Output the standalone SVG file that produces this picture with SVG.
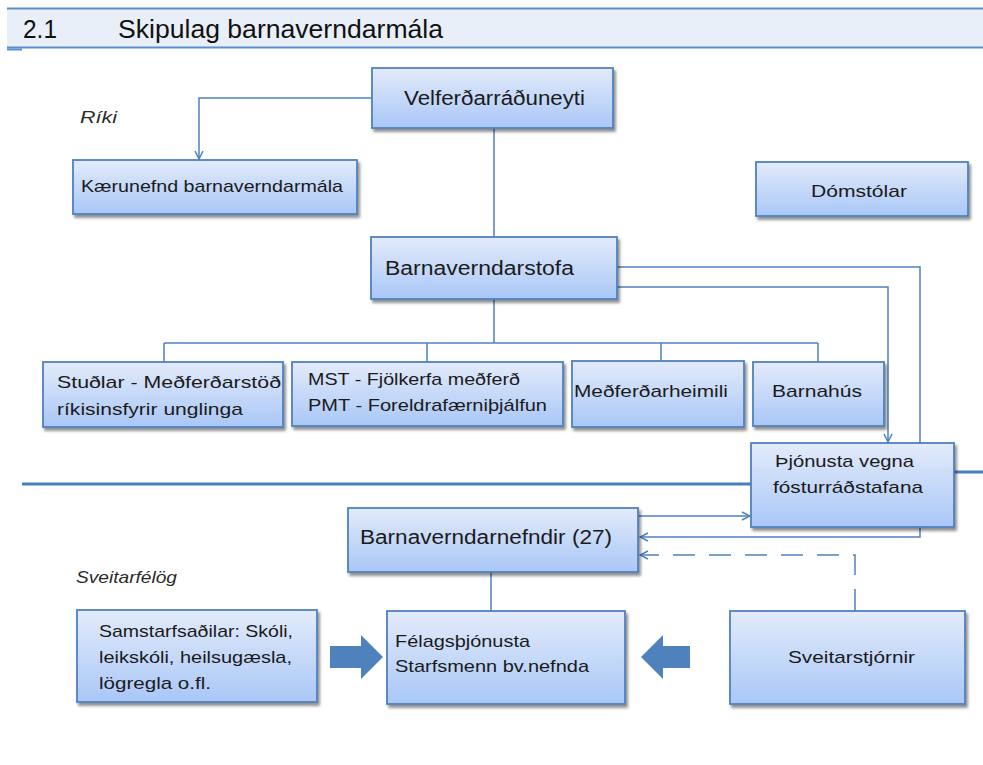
<svg xmlns="http://www.w3.org/2000/svg" width="983" height="765" viewBox="0 0 983 765">
<defs>
<linearGradient id="g" x1="0" y1="0" x2="0" y2="1">
<stop offset="0" stop-color="#E3EBFA"/>
<stop offset="1" stop-color="#A9C7F7"/>
</linearGradient>
<filter id="sh" x="-10%" y="-10%" width="130%" height="140%">
<feGaussianBlur in="SourceAlpha" stdDeviation="1.5"/>
<feOffset dx="2" dy="3" result="o"/>
<feComponentTransfer><feFuncA type="linear" slope="0.45"/></feComponentTransfer>
<feMerge><feMergeNode/><feMergeNode in="SourceGraphic"/></feMerge>
</filter>
<marker id="ar" viewBox="0 0 10 10" refX="9" refY="5" markerWidth="10" markerHeight="10" markerUnits="userSpaceOnUse" orient="auto">
<path d="M1,1 L9,5 L1,9" fill="none" stroke="#4F81BD" stroke-width="1.5"/>
</marker>
</defs>
<style>
.box{fill:url(#g);stroke:#4F81BD;stroke-width:1.8;filter:url(#sh)}
.t{font-family:"Liberation Sans",Arial,sans-serif;fill:#1b1b1b;font-size:17px}
.tl{font-family:"Liberation Sans",Arial,sans-serif;fill:#1b1b1b;font-size:19.5px}
.it{font-family:"Liberation Sans",Arial,sans-serif;fill:#2a2a2a;font-size:16.5px;font-style:italic}
.h{font-family:"Liberation Sans",Arial,sans-serif;fill:#111;font-size:25px}
.c{fill:none;stroke:#4F81BD;stroke-width:1.5}
.d{fill:none;stroke:#4F81BD;stroke-width:1.5;stroke-dasharray:22 14}
.sep{stroke:#4A7EBB;stroke-width:3}
.blk{fill:#4F81BD}
</style>
<rect x="0" y="0" width="983" height="765" fill="#ffffff"/>
<g id="header">
<rect x="7" y="9" width="976" height="38" fill="#E9EFF8"/>
<line x1="7" y1="8.5" x2="983" y2="8.5" stroke="#5B8ED1" stroke-width="2"/>
<line x1="7" y1="47.5" x2="983" y2="47.5" stroke="#5B8ED1" stroke-width="2"/>
<line x1="7" y1="49.5" x2="22" y2="49.5" stroke="#5B8ED1" stroke-width="2"/>
<text class="h" x="23" y="38" textLength="34" lengthAdjust="spacingAndGlyphs">2.1</text>
<text class="h" x="118" y="38" textLength="325" lengthAdjust="spacingAndGlyphs">Skipulag barnaverndarmála</text>
</g>
<g id="labels">
<text class="it" x="80" y="123" textLength="37" lengthAdjust="spacingAndGlyphs">Ríki</text>
<text class="it" x="76" y="583" textLength="101" lengthAdjust="spacingAndGlyphs">Sveitarfélög</text>
</g>
<g id="separators">
<line class="sep" x1="22" y1="484" x2="752" y2="484"/>
<line class="sep" x1="954" y1="472" x2="983" y2="472"/>
</g>
<g id="connectors">
<path class="c" d="M372,98 H199 V159" marker-end="url(#ar)"/>
<path class="c" d="M494,128 V237"/>
<path class="c" d="M494,299 V343 M164,343 H818 M164,343 V362 M427,343 V362 M661,343 V361 M818,343 V362"/>
<path class="c" d="M617,287 H888 V442" marker-end="url(#ar)"/>
<path class="c" d="M617,267 H920 V537 H640" marker-end="url(#ar)"/>
<path class="c" d="M638,516 H750" marker-end="url(#ar)"/>
<path class="d" d="M855,611 V555 H640" marker-end="url(#ar)"/>
<path class="c" d="M491,572 V611"/>
<path class="blk" d="M330,646 H361 V635 L383,657 L361,679 V668 H330 Z"/>
<path class="blk" d="M690,646 H663 V635 L641,657 L663,679 V668 H690 Z"/>
</g>
<g id="velferdarraduneyti">
<rect class="box" x="372" y="68" width="241" height="60"/>
<text class="tl" x="404" y="105" textLength="181" lengthAdjust="spacingAndGlyphs">Velferðarráðuneyti</text>
</g>
<g id="kaerunefnd">
<rect class="box" x="73" y="160" width="284" height="54"/>
<text class="t" x="81" y="192" textLength="262" lengthAdjust="spacingAndGlyphs">Kærunefnd barnaverndarmála</text>
</g>
<g id="domstolar">
<rect class="box" x="756" y="162" width="212" height="54"/>
<text class="t" x="811" y="197" textLength="96" lengthAdjust="spacingAndGlyphs">Dómstólar</text>
</g>
<g id="barnaverndarstofa">
<rect class="box" x="371" y="237" width="246" height="62"/>
<text class="tl" x="385" y="275" textLength="189" lengthAdjust="spacingAndGlyphs">Barnaverndarstofa</text>
</g>
<g id="studlar">
<rect class="box" x="43" y="362" width="240" height="65"/>
<text class="t" x="57" y="388" textLength="224" lengthAdjust="spacingAndGlyphs">Stuðlar - Meðferðarstöð</text>
<text class="t" x="57" y="415" textLength="186" lengthAdjust="spacingAndGlyphs">ríkisinsfyrir unglinga</text>
</g>
<g id="mst">
<rect class="box" x="292" y="362" width="271" height="64"/>
<text class="t" x="308" y="385" textLength="212" lengthAdjust="spacingAndGlyphs">MST - Fjölkerfa meðferð</text>
<text class="t" x="308" y="411" textLength="239" lengthAdjust="spacingAndGlyphs">PMT - Foreldrafærniþjálfun</text>
</g>
<g id="medferdarheimili">
<rect class="box" x="572" y="361" width="172" height="66"/>
<text class="t" x="574" y="397" textLength="154" lengthAdjust="spacingAndGlyphs">Meðferðarheimili</text>
</g>
<g id="barnahus">
<rect class="box" x="753" y="362" width="131" height="64"/>
<text class="t" x="772" y="397" textLength="90" lengthAdjust="spacingAndGlyphs">Barnahús</text>
</g>
<g id="thjonusta">
<rect class="box" x="751" y="443" width="203" height="84"/>
<text class="t" x="775" y="467" textLength="139" lengthAdjust="spacingAndGlyphs">Þjónusta vegna</text>
<text class="t" x="773" y="493" textLength="150" lengthAdjust="spacingAndGlyphs">fósturráðstafana</text>
</g>
<g id="barnaverndarnefndir">
<rect class="box" x="348" y="508" width="290" height="64"/>
<text class="tl" x="360" y="544" textLength="252" lengthAdjust="spacingAndGlyphs">Barnaverndarnefndir (27)</text>
</g>
<g id="samstarfsadilar">
<rect class="box" x="77" y="610" width="240" height="92"/>
<text class="t" x="99" y="637" textLength="194" lengthAdjust="spacingAndGlyphs">Samstarfsaðilar: Skóli,</text>
<text class="t" x="99" y="663" textLength="193" lengthAdjust="spacingAndGlyphs">leikskóli, heilsugæsla,</text>
<text class="t" x="99" y="689" textLength="112" lengthAdjust="spacingAndGlyphs">lögregla o.fl.</text>
</g>
<g id="felagsthjonusta">
<rect class="box" x="387" y="611" width="238" height="93"/>
<text class="t" x="395" y="647" textLength="135" lengthAdjust="spacingAndGlyphs">Félagsþjónusta</text>
<text class="t" x="395" y="672" textLength="194" lengthAdjust="spacingAndGlyphs">Starfsmenn bv.nefnda</text>
</g>
<g id="sveitarstjornir">
<rect class="box" x="730" y="611" width="235" height="93"/>
<text class="t" x="788" y="663" textLength="127" lengthAdjust="spacingAndGlyphs">Sveitarstjórnir</text>
</g>
</svg>
